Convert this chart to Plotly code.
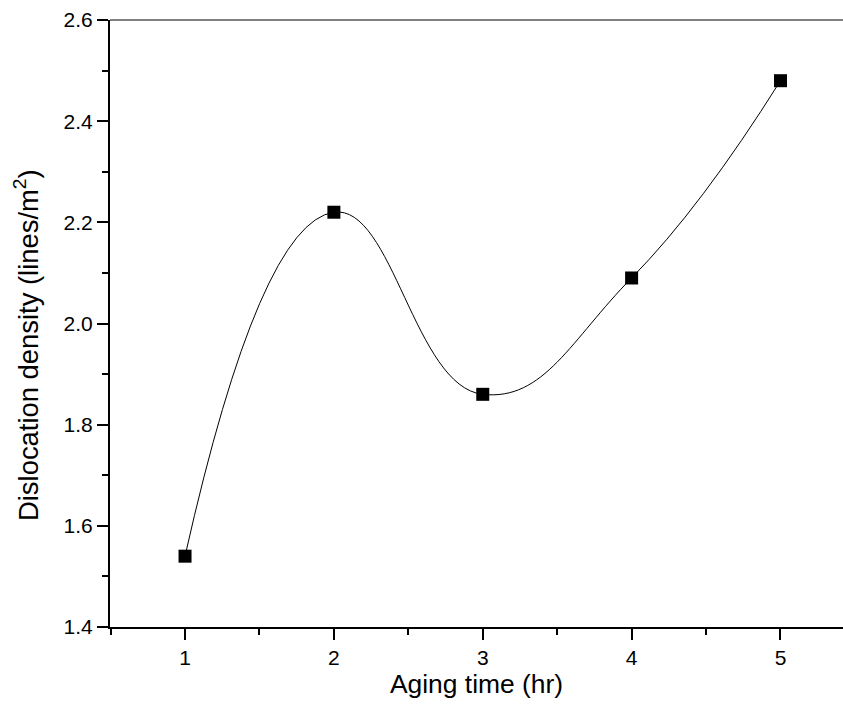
import plotly.graph_objects as go

aging_time = [1, 2, 3, 4, 5]
dislocation_density = [1.54, 2.22, 1.86, 2.09, 2.48]

x_ticks = [1, 2, 3, 4, 5]
y_ticks = [1.4, 1.6, 1.8, 2.0, 2.2, 2.4, 2.6]
y_tick_labels = ["1.4", "1.6", "1.8", "2.0", "2.2", "2.4", "2.6"]

fig = go.Figure()
fig.add_trace(go.Scatter(
    x=aging_time, y=dislocation_density,
    mode="lines",
    line=dict(color="black", width=1, shape="spline", smoothing=1.3),
    showlegend=False, hoverinfo="skip",
))
fig.add_trace(go.Scatter(
    x=aging_time, y=dislocation_density,
    mode="markers",
    marker=dict(symbol="square", size=13, color="black"),
    showlegend=False,
))

font = "Liberation Sans, Arial, sans-serif"
W, H = 843, 715
L, R, T, B = 110, 0, 20, 88
pw, ph = W - L - R, H - T - B

fig.update_layout(
    width=W, height=H,
    margin=dict(l=L, r=R, t=T, b=B),
    paper_bgcolor="white", plot_bgcolor="white",
    font=dict(family=font, color="black", size=21),
    xaxis=dict(
        range=[0.496, 5.42],
        tickvals=x_ticks,
        ticks="outside", ticklen=11, tickwidth=2, tickcolor="black",
        showline=True, linecolor="black", linewidth=2,
        showgrid=False, zeroline=False,
        tickfont=dict(family=font, size=21, color="black"),
        minor=dict(ticks="outside", ticklen=6, tickwidth=2, tickcolor="black", dtick=0.5, tick0=0.5, showgrid=False),
        title=dict(text="Aging time (hr)", font=dict(family=font, size=26.4, color="black"), standoff=6),
    ),
    yaxis=dict(
        range=[1.4, 2.6],
        tickvals=y_ticks, ticktext=y_tick_labels,
        ticks="outside", ticklen=11, tickwidth=2, tickcolor="black",
        showline=True, linecolor="black", linewidth=2,
        showgrid=False, zeroline=False,
        tickfont=dict(family=font, size=21, color="black"),
        minor=dict(ticks="outside", ticklen=6, tickwidth=2, tickcolor="black", dtick=0.1, tick0=1.4, showgrid=False),
    ),
    annotations=[dict(
        text="Dislocation density (lines/m<sup>2</sup>)",
        textangle=-90, showarrow=False,
        xref="paper", yref="paper",
        x=(27 - L) / pw, y=(H - B - 345) / ph,
        xanchor="center", yanchor="middle",
        font=dict(family=font, size=27.4, color="black"),
    )],
    shapes=[dict(type="line", xref="paper", yref="paper", x0=0, x1=1, y0=1, y1=1,
                 line=dict(color="#808080", width=2))],
)

fig.write_html("out.html", config={"displayModeBar": False},
               post_script="document.body.style.margin='0px';document.body.style.overflow='hidden';")
